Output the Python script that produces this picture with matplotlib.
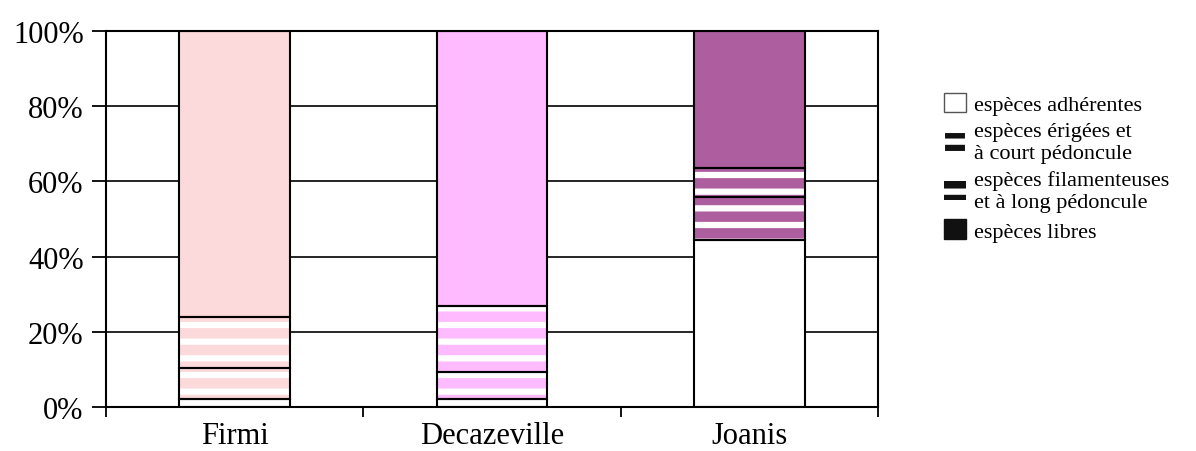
import numpy as np
import matplotlib.pyplot as plt
from matplotlib.patches import Patch

sites = ['Firmi', 'Decazeville', 'Joanis']
adherentes = [2.2, 2.1, 44.4]
erigees = [8.2, 7.1, 11.5]
filamenteuses = [13.6, 17.6, 7.6]
libres = [76.0, 73.2, 36.5]
colors = ['#fcd9da', '#ffbbff', '#ad5e9f']

legend_labels = ['espèces adhérentes', 'espèces érigées et\nà court pédoncule',
                 'espèces filamenteuses\net à long pédoncule', 'espèces libres']

plt.rcParams['font.family'] = ['Liberation Serif', 'DejaVu Serif']
plt.rcParams['hatch.linewidth'] = 4.5

fig = plt.figure(figsize=(11.96, 4.52), dpi=100)
ax = fig.add_axes([0.0886, 0.0973, 0.6455, 0.8317])

x = np.arange(len(sites))
w = 0.43
bottoms = np.zeros(len(sites))
layers = [(adherentes, False, True), (erigees, True, False),
          (filamenteuses, True, False), (libres, False, False)]
for vals, striped, white in layers:
    vals = np.array(vals)
    for i in range(len(sites)):
        fc = 'white' if white else colors[i]
        ax.bar(x[i], vals[i], w, bottom=bottoms[i], color=fc, edgecolor='none', zorder=2)
        if striped:
            ax.bar(x[i], vals[i], w, bottom=bottoms[i], facecolor='none', edgecolor='white',
                   hatch='-', linewidth=0, zorder=3)
        ax.bar(x[i], vals[i], w, bottom=bottoms[i], facecolor='none', edgecolor='black',
               linewidth=1.5, zorder=4)
    bottoms += vals

ax.set_xlim(-0.5, 2.5)
ax.set_ylim(0, 100)
ax.set_yticks([0, 20, 40, 60, 80, 100])
ax.set_yticklabels(['0%', '20%', '40%', '60%', '80%', '100%'], fontsize=22)
ax.yaxis.grid(True, color='black', linewidth=1.2, zorder=1)
ax.set_axisbelow(True)
ax.tick_params(axis='y', direction='out', length=10, width=1.3, pad=6)

ax.set_xticks([-0.5, 0.5, 1.5, 2.5])
ax.set_xticklabels([])
ax.tick_params(axis='x', which='major', direction='out', length=7, width=1.3)
ax.set_xticks(x, minor=True)
ax.set_xticklabels(sites, minor=True, fontsize=22)
ax.tick_params(axis='x', which='minor', length=0, pad=10)

for s in ax.spines.values():
    s.set_color('black')
    s.set_linewidth(1.5)

handles = [
    Patch(facecolor='white', edgecolor='#555555', linewidth=1),
    Patch(facecolor='#111111', edgecolor='white', hatch='-', linewidth=1.5),
    Patch(facecolor='#111111', edgecolor='white', hatch='-', linewidth=0),
    Patch(facecolor='#111111', edgecolor='#111111', linewidth=1),
]
leg = fig.legend(handles, legend_labels, loc='upper left', bbox_to_anchor=(0.789, 0.793),
                 frameon=False, fontsize=16, handlelength=1.0, handleheight=1.0,
                 handletextpad=0.35, labelspacing=0.3, borderpad=0, borderaxespad=0)
for t in leg.get_texts():
    t.set_linespacing(1.25)

fig.savefig('out.png', dpi=100)
